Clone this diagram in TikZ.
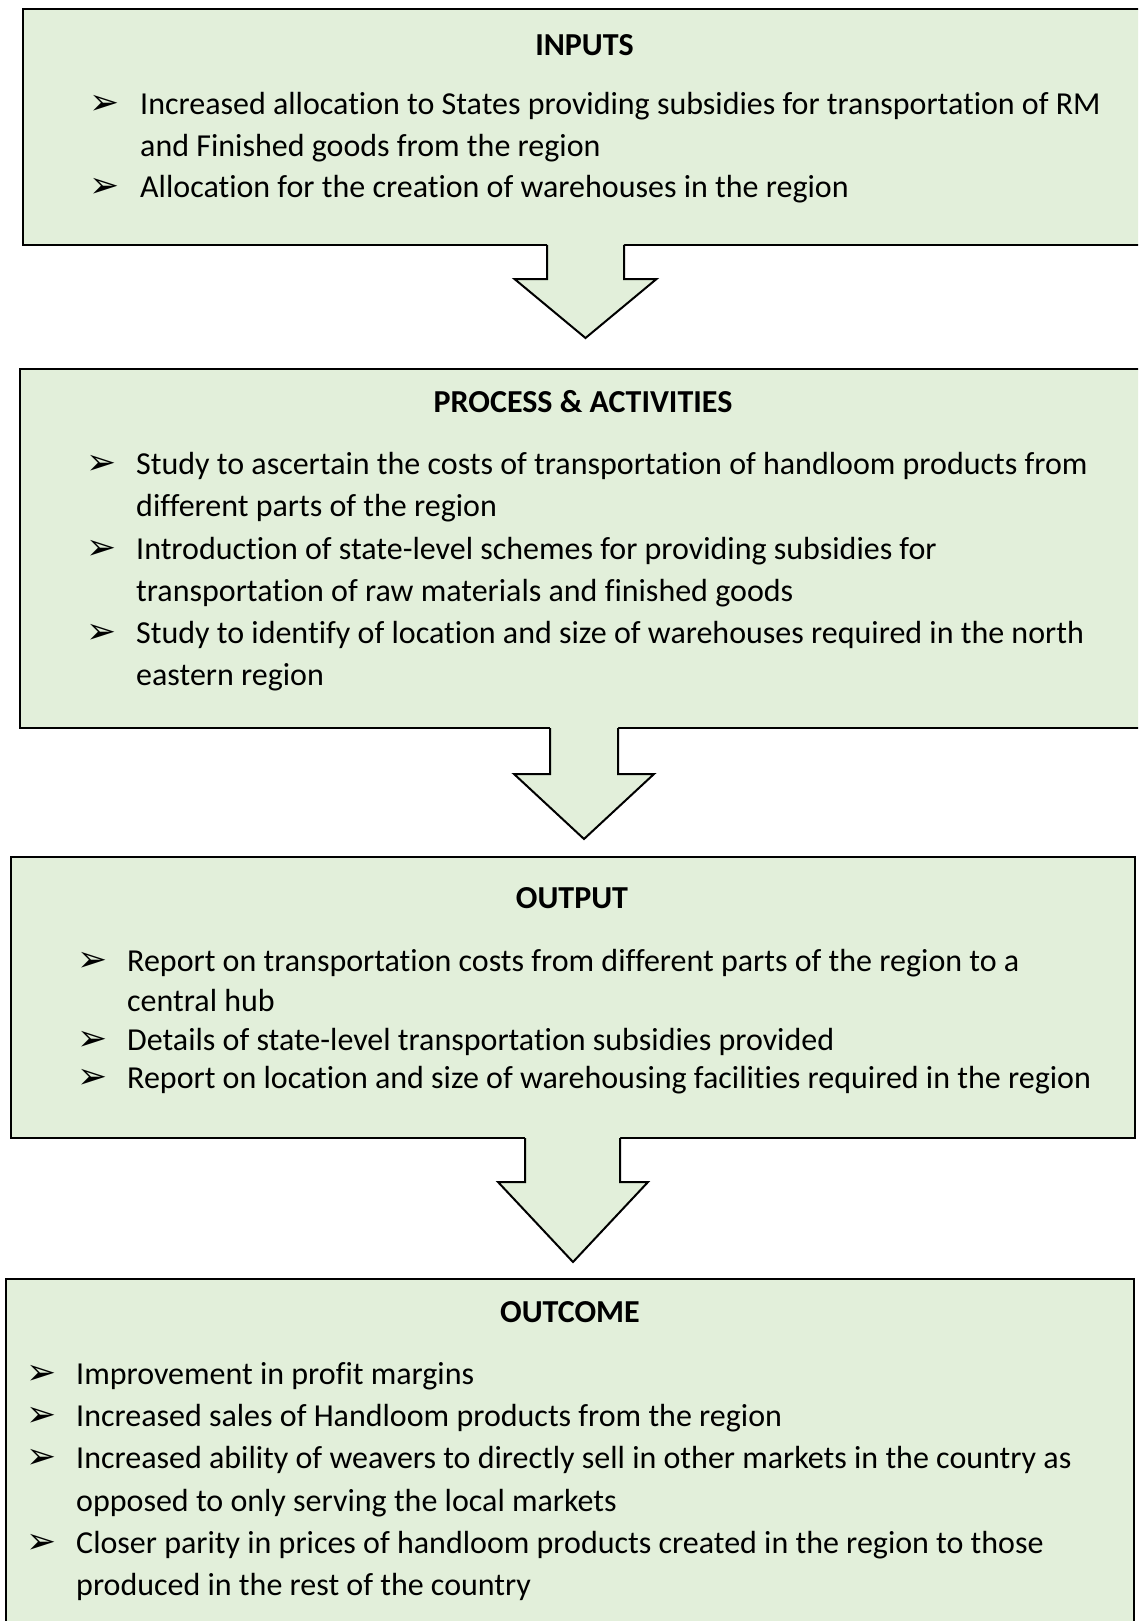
\documentclass[tikz,border=0pt]{standalone}
\usepackage{fontspec}
\setmainfont{Carlito}[Ligatures={NoCommon}]
\newfontfamily\dingfont{DejaVu Sans}
\usetikzlibrary{calc}
\definecolor{boxfill}{HTML}{E2EFDA}

\tikzset{
  panel/.style={draw=black, line width=2pt, fill=boxfill, rectangle,
    inner sep=0pt, anchor=north west},
  heading/.style={font=\fontsize{32}{38}\selectfont\bfseries, anchor=base,
    inner sep=0pt, yshift=-2.5pt},
  itemtext/.style={font=\fontsize{32}{38}\selectfont, anchor=base west,
    inner sep=0pt, yshift=-3pt},
  bulletmark/.style={font=\dingfont\fontsize{36}{40}\selectfont, anchor=base west,
    inner sep=0pt, yshift=-3pt, xshift=-4pt},
  arrowline/.style={draw=black, line width=2pt, line join=miter},
}

% one line of item text / one bullet mark
\newcommand\itemline[4]{\node[itemtext] (#1) at (#2,#3) {#4};}
\newcommand\itembullet[3]{\node[bulletmark] (#1) at (#2,#3) {➢};}

% block arrow hanging below a panel:
% #1 panel, #2 left shaft offset, #3 right shaft offset,
% #4 neck depth, #5 head half width, #6 tip depth
\newcommand\flowarrow[6]{%
  \fill[boxfill] ($(#1.south)+(#2,-3)$) -- ($(#1.south)+(#2,#4)$)
    -- ($(#1.south)+(-#5,#4)$) -- ($(#1.south)+(0,#6)$)
    -- ($(#1.south)+(#5,#4)$) -- ($(#1.south)+(#3,#4)$)
    -- ($(#1.south)+(#3,-3)$) -- cycle;
  \draw[arrowline] ($(#1.south)+(#2,-1)$) -- ($(#1.south)+(#2,#4)$)
    -- ($(#1.south)+(-#5,#4)$) -- ($(#1.south)+(0,#6)$)
    -- ($(#1.south)+(#5,#4)$) -- ($(#1.south)+(#3,#4)$)
    -- ($(#1.south)+(#3,-1)$);
}

\begin{document}
\begin{tikzpicture}[x=1pt, y=-1pt]
\useasboundingbox (0,0) rectangle (1138,1621);
\clip (0,0) rectangle (1138,1621);

% panels
\node[panel, minimum width=1125, minimum height=236] (inputs) at (22,8) {};
\node[panel, minimum width=1128, minimum height=359] (process) at (19,368) {};
\node[panel, minimum width=1124, minimum height=281] (output) at (10,856) {};
\node[panel, minimum width=1128, minimum height=360] (outcome) at (5,1278) {};

% arrows between panels
\flowarrow{inputs}{-38.5}{38.5}{33}{71}{92}
\flowarrow{process}{-34}{34}{45}{70}{110}
\flowarrow{output}{-48}{47}{43}{75}{123}

% INPUTS
\node[heading] (inputsT) at (584.5,53) {INPUTS};
\itembullet{inB1}{93}{112}
\itemline{inL1}{140}{112}{Increased allocation to States providing subsidies for transportation of RM}
\itemline{inL2}{140}{154}{and Finished goods from the region}
\itembullet{inB2}{93}{195}
\itemline{inL3}{140}{195}{Allocation for the creation of warehouses in the region}

% PROCESS & ACTIVITIES
\node[heading] (processT) at (583,410) {PROCESS \& ACTIVITIES};
\itembullet{prB1}{90}{471}
\itemline{prL1}{136}{471}{Study to ascertain the costs of transportation of handloom products from}
\itemline{prL2}{136}{513.5}{different parts of the region}
\itembullet{prB2}{90}{556}
\itemline{prL3}{136}{556}{Introduction of state-level schemes for providing subsidies for}
\itemline{prL4}{136}{598}{transportation of raw materials and finished goods}
\itembullet{prB3}{90}{640.5}
\itemline{prL5}{136}{640.5}{Study to identify of location and size of warehouses required in the north}
\itemline{prL6}{136}{682}{eastern region}

% OUTPUT
\node[heading] (outputT) at (572,906) {OUTPUT};
\itembullet{otB1}{81}{968}
\itemline{otL1}{127}{968}{Report on transportation costs from different parts of the region to a}
\itemline{otL2}{127}{1008}{central hub}
\itembullet{otB2}{81}{1047}
\itemline{otL3}{127}{1047}{Details of state-level transportation subsidies provided}
\itembullet{otB3}{81}{1085}
\itemline{otL4}{127}{1085}{Report on location and size of warehousing facilities required in the region}

% OUTCOME
\node[heading] (outcomeT) at (570,1320) {OUTCOME};
\itembullet{ocB1}{30}{1381}
\itemline{ocL1}{76}{1381}{Improvement in profit margins}
\itembullet{ocB2}{30}{1423}
\itemline{ocL2}{76}{1423}{Increased sales of Handloom products from the region}
\itembullet{ocB3}{30}{1465}
\itemline{ocL3}{76}{1465}{Increased ability of weavers to directly sell in other markets in the country as}
\itemline{ocL4}{76}{1508}{opposed to only serving the local markets}
\itembullet{ocB4}{30}{1550}
\itemline{ocL5}{76}{1550}{Closer parity in prices of handloom products created in the region to those}
\itemline{ocL6}{76}{1592}{produced in the rest of the country}
\end{tikzpicture}
\end{document}
